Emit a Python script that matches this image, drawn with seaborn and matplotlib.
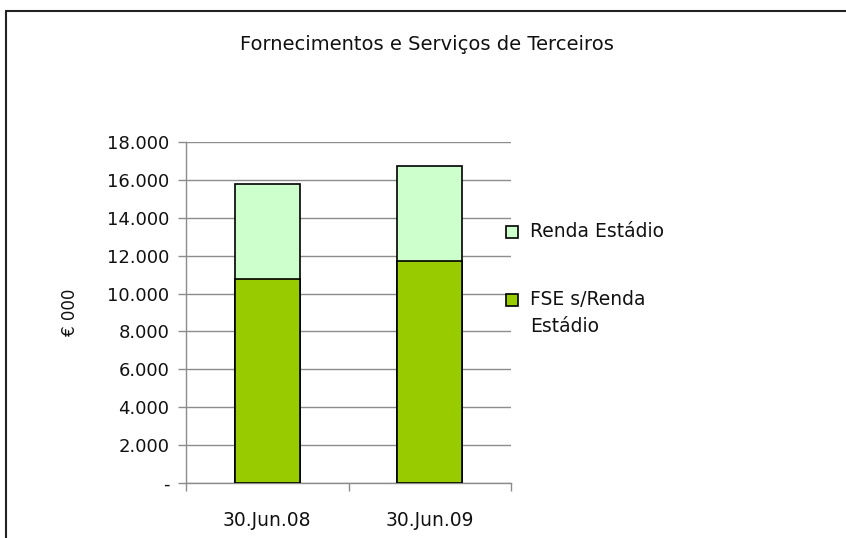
import matplotlib.pyplot as plt
import seaborn as sns
from matplotlib.patches import Rectangle
from matplotlib.ticker import FuncFormatter, FixedLocator

periods = ['30.Jun.08', '30.Jun.09']
fse_sem_renda = [10750, 11720]
renda_estadio = [5050, 5030]
totals = [a + b for a, b in zip(fse_sem_renda, renda_estadio)]
legend_labels = ['Renda Estádio', 'FSE s/Renda\nEstádio']

light_green = '#CCFFCC'
dark_green = '#99CC00'

sns.set_theme(style='white')
plt.rcParams['font.family'] = ['DejaVu Sans']
plt.rcParams['text.color'] = 'black'

fig = plt.figure(figsize=(8.46, 5.38), dpi=100)
ax = fig.add_axes([186 / 846, 1 - 483 / 538, 325 / 846, 341 / 538])

# stacked bars: draw total first, then the lower segment on top of it
sns.barplot(x=periods, y=totals, color=light_green, width=0.4,
            edgecolor='black', linewidth=1.2, saturation=1, ax=ax, zorder=3)
sns.barplot(x=periods, y=fse_sem_renda, color=dark_green, width=0.4,
            edgecolor='black', linewidth=1.2, saturation=1, ax=ax, zorder=4)

ax.set_xlim(-0.5, 1.5)
ax.set_ylim(0, 18000)
ax.set_yticks(range(0, 18001, 2000))
ax.yaxis.set_major_formatter(FuncFormatter(
    lambda v, p: '-' if v == 0 else f'{int(v):,}'.replace(',', '.')))
ax.grid(axis='y', color='#8c8c8c', linewidth=1.0, zorder=0)
ax.set_axisbelow(True)

for s in ['top', 'right']:
    ax.spines[s].set_visible(False)
for s in ['left', 'bottom']:
    ax.spines[s].set_color('#8c8c8c')
    ax.spines[s].set_linewidth(1.0)

ax.tick_params(axis='y', which='major', direction='out', length=6, width=1,
               color='#8c8c8c', labelsize=13, labelcolor='#111111', pad=6, left=True)
ax.tick_params(axis='x', which='major', length=0, labelsize=13.5,
               labelcolor='#111111', pad=20)
ax.xaxis.set_minor_locator(FixedLocator([-0.5, 0.5, 1.5]))
ax.tick_params(axis='x', which='minor', direction='out', length=6, width=1,
               color='#8c8c8c', bottom=True)

ax.set_xlabel('')
ax.set_ylabel('€ 000', fontsize=12, labelpad=20, color='#111111')

fig.text(427 / 846, 1 - 45 / 538, 'Fornecimentos e Serviços de Terceiros',
         ha='center', va='center', fontsize=14, color='#111111')

# legend entries, marker aligned with the first text line
legend_colors = [light_green, dark_green]
legend_y = [232, 300]
for lab, col, yy in zip(legend_labels, legend_colors, legend_y):
    fig.add_artist(Rectangle((506 / 846, 1 - (yy + 6) / 538), 12 / 846, 12 / 538,
                             facecolor=col, edgecolor='black', lw=1.2,
                             transform=fig.transFigure))
    fig.text(530 / 846, 1 - (yy - 10) / 538, lab, ha='left', va='top',
             fontsize=13.5, color='#111111', linespacing=1.55)

# outer chart frame (left and top edges visible)
fig.add_artist(plt.Line2D([6 / 846, 6 / 846], [0, 1 - 11 / 538], color='#222222', lw=1.5))
fig.add_artist(plt.Line2D([6 / 846, 1], [1 - 11 / 538, 1 - 11 / 538], color='#222222', lw=1.5))

fig.savefig('out.png', dpi=100)
